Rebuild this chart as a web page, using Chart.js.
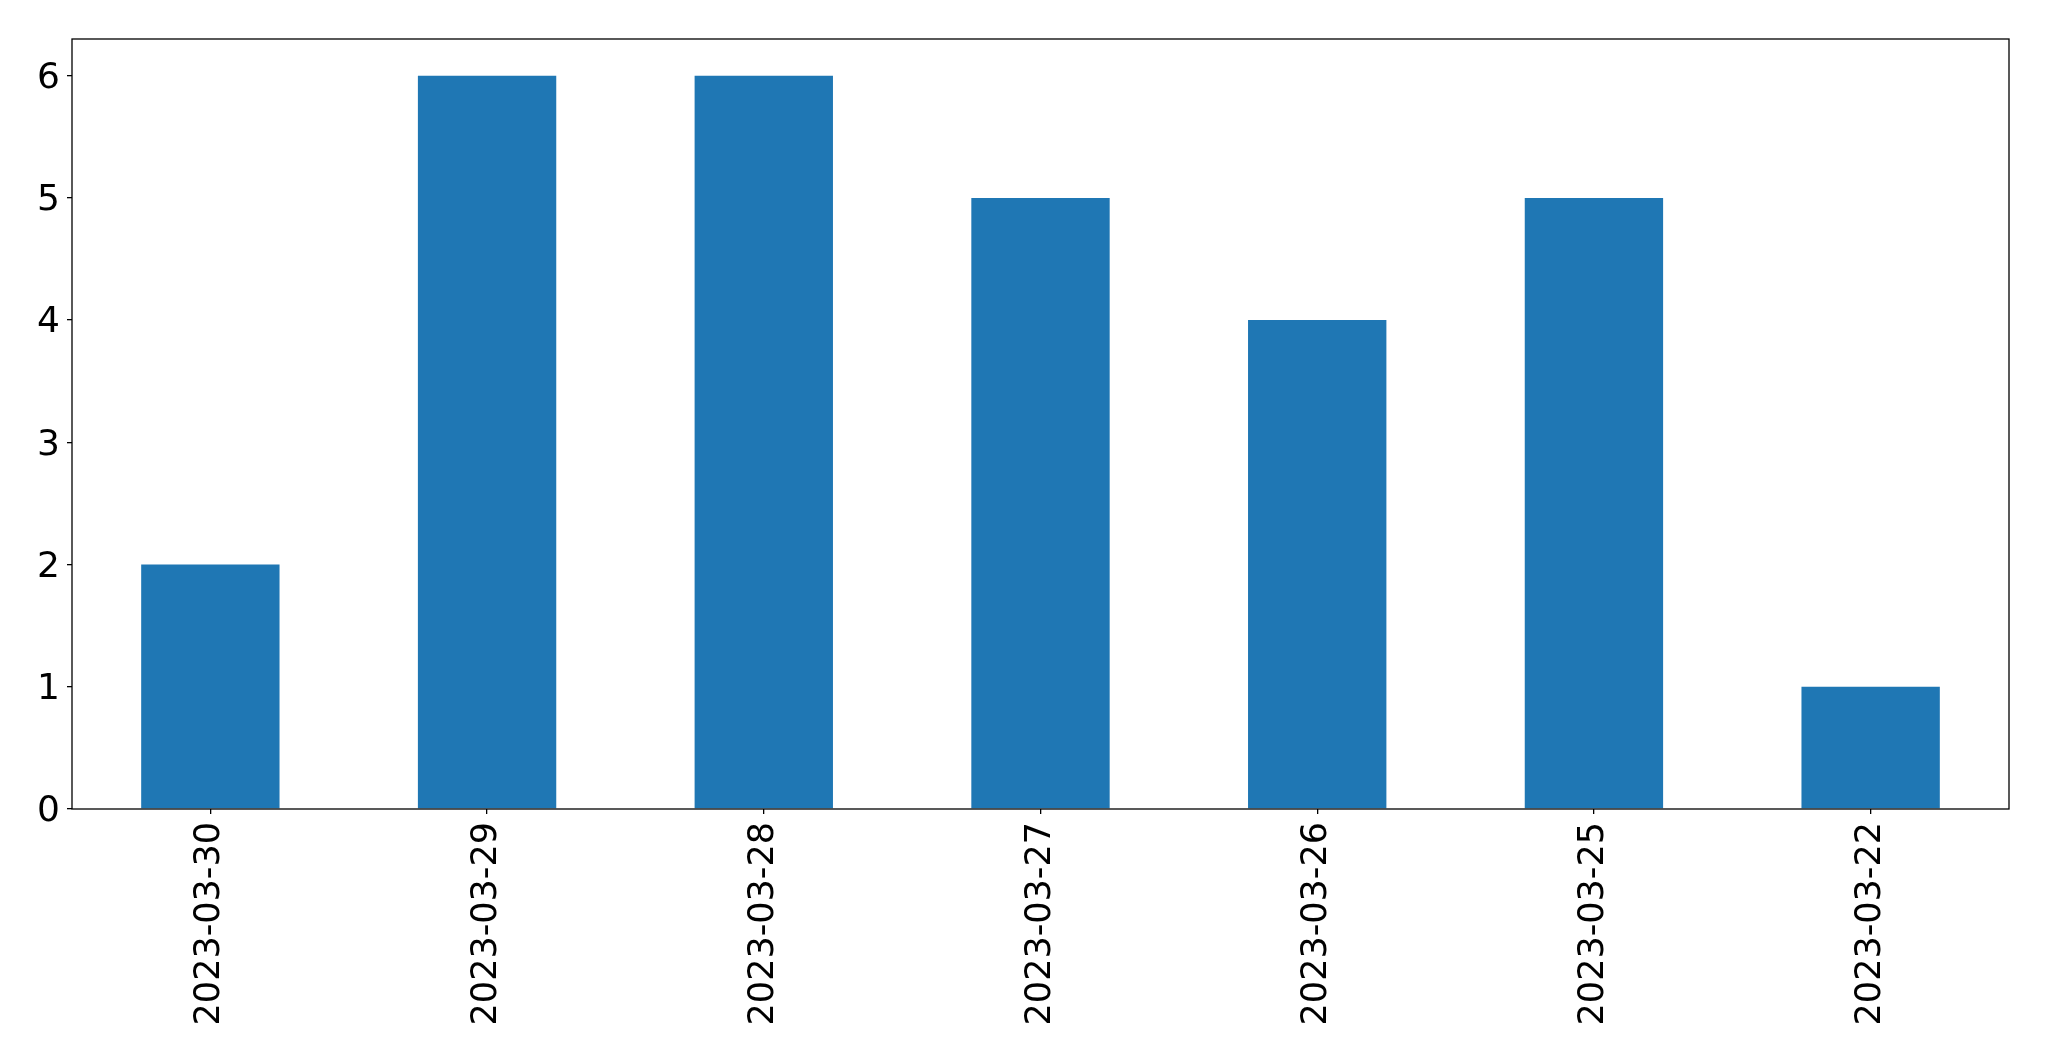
<!DOCTYPE html>
<html>
<head>
<meta charset="utf-8">
<script src="https://cdn.jsdelivr.net/npm/chart.js@4"></script>
<style>
  html, body { margin: 0; padding: 0; background: #fff; }
  canvas { display: block; }
</style>
</head>
<body>
<canvas id="barChart" width="2049" height="1061"></canvas>
<script>
  var categories = ['2023-03-30', '2023-03-29', '2023-03-28', '2023-03-27', '2023-03-26', '2023-03-25', '2023-03-22'];
  var counts = [2, 6, 6, 5, 4, 5, 1];
  var yTicks = [0, 1, 2, 3, 4, 5, 6];

  var fontFamily = "'DejaVu Sans', sans-serif";
  var fontSize = 35;

  // frame round the plot area, like the matplotlib axes box
  var frame = {
    id: 'frame',
    afterDraw: function (chart) {
      var a = chart.chartArea;
      var ctx = chart.ctx;
      ctx.save();
      ctx.strokeStyle = '#000';
      ctx.lineWidth = 1.3;
      ctx.strokeRect(a.left, a.top, a.right - a.left, a.bottom - a.top);
      ctx.restore();
    }
  };

  new Chart(document.getElementById('barChart'), {
    type: 'bar',
    data: {
      labels: categories,
      datasets: [{
        data: counts,
        backgroundColor: '#1f77b4',
        borderWidth: 0,
        categoryPercentage: 1.0,
        barPercentage: 0.5
      }]
    },
    options: {
      responsive: false,
      animation: false,
      layout: { padding: { top: 39, right: 40, left: 0, bottom: 0 } },
      plugins: { legend: { display: false }, tooltip: { enabled: false } },
      scales: {
        x: {
          offset: true,
          grid: { offset: false, drawOnChartArea: false, tickLength: 5, color: '#000', lineWidth: 1.3 },
          border: { display: false },
          ticks: {
            color: '#000',
            font: { family: fontFamily, size: fontSize },
            minRotation: 90,
            maxRotation: 90,
            padding: 8,
            autoSkip: false
          },
          afterFit: function (scale) { scale.height = 252; }
        },
        y: {
          min: 0,
          max: 6.3,
          grid: { drawOnChartArea: false, tickLength: 5, color: '#000', lineWidth: 1.3 },
          border: { display: false },
          ticks: {
            color: '#000',
            font: { family: fontFamily, size: 36 },
            padding: 7,
            labelOffset: 3
          },
          afterBuildTicks: function (scale) {
            scale.ticks = yTicks.map(function (v) { return { value: v }; });
          },
          afterFit: function (scale) { scale.width = 72; }
        }
      }
    },
    plugins: [frame]
  });
</script>
</body>
</html>
